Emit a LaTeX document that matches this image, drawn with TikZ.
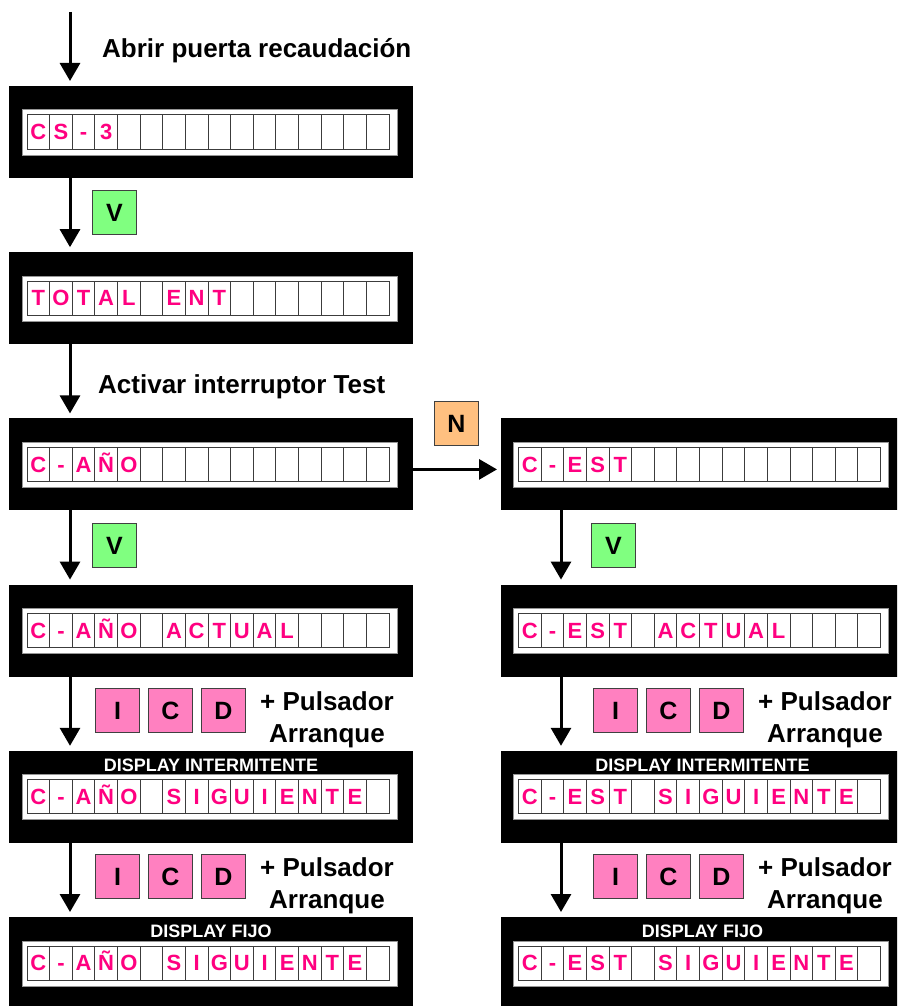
\documentclass[tikz,border=0pt]{standalone}
\usepackage{fontspec}
\setmainfont{Liberation Sans}
\usetikzlibrary{arrows.meta}
\definecolor{lcdpink}{RGB}{255,0,128}
\definecolor{keypink}{RGB}{255,128,192}
\definecolor{keygreen}{RGB}{128,255,128}
\definecolor{keyorange}{RGB}{255,192,128}
\definecolor{cellgray}{RGB}{60,60,60}
\definecolor{wingray}{RGB}{150,150,150}
\tikzset{
  dispbox/.style={draw=none, fill=black, minimum width=404pt, minimum height=92pt, inner sep=0pt, outer sep=0pt, anchor=north west},
  dispwin/.style={draw=wingray, line width=1pt, fill=white, minimum width=375pt, minimum height=45pt, inner sep=0pt, outer sep=0pt, anchor=north west},
  cellbox/.style={draw=cellgray, line width=1pt, minimum width=22.625pt, minimum height=34pt, inner sep=0pt, outer sep=0pt, anchor=north west, text height=15.5pt, text depth=0pt, font=\fontsize{22}{22}\selectfont\bfseries, text=lcdpink},
  hdr/.style={text=white, inner sep=0pt, font=\fontsize{18}{18}\selectfont\bfseries},
  lbl/.style={inner sep=0pt, font=\fontsize{26}{30}\selectfont\bfseries},
  keybox/.style={draw=black!75, line width=1pt, minimum width=44pt, minimum height=44pt, inner sep=0pt, text height=18pt, text depth=0pt, font=\fontsize{25}{25}\selectfont\bfseries},
  arr/.style={line width=3pt, -{Triangle[width=20pt,length=18pt]}},
}
\newcommand\lcdpanel[4]{%
  \node[dispbox] (#1) at (#2,#3) {};
  \node[dispwin] (#1w) at ([shift={(13,24)}]#1.north west) {};
  \foreach \c [count=\i from 0] in {#4} {
    \node[cellbox] (#1c\i) at ([shift={({18+\i*22.625},29)}]#1.north west) {\c};
  }
}
\begin{document}
\begin{tikzpicture}[x=1pt,y=-1pt]
\useasboundingbox (0,0) rectangle (897,1006);
\clip (0,0) rectangle (897,1006);

% left column
\lcdpanel{b1}{9}{86}{C,S,-,3,{},{},{},{},{},{},{},{},{},{},{},{}}
\lcdpanel{b2}{9}{252.2}{T,O,T,A,L,{},E,N,T,{},{},{},{},{},{},{}}
\lcdpanel{b3}{9}{418.4}{C,-,A,Ñ,O,{},{},{},{},{},{},{},{},{},{},{}}
\lcdpanel{b4}{9}{584.6}{C,-,A,Ñ,O,{},A,C,T,U,A,L,{},{},{},{}}
\lcdpanel{b5}{9}{750.8}{C,-,A,Ñ,O,{},S,I,G,U,I,E,N,T,E,{}}
\lcdpanel{b6}{9}{917}{C,-,A,Ñ,O,{},S,I,G,U,I,E,N,T,E,{}}
% right column
\lcdpanel{r3}{500.5}{418.4}{C,-,E,S,T,{},{},{},{},{},{},{},{},{},{},{}}
\lcdpanel{r4}{500.5}{584.6}{C,-,E,S,T,{},A,C,T,U,A,L,{},{},{},{}}
\lcdpanel{r5}{500.5}{750.8}{C,-,E,S,T,{},S,I,G,U,I,E,N,T,E,{}}
\lcdpanel{r6}{500.5}{917}{C,-,E,S,T,{},S,I,G,U,I,E,N,T,E,{}}

% headers
\node[hdr] (b5h) at ([shift={(202,14)}]b5.north west) {DISPLAY INTERMITENTE};
\node[hdr] (b6h) at ([shift={(202,14)}]b6.north west) {DISPLAY FIJO};
\node[hdr] (r5h) at ([shift={(202,14)}]r5.north west) {DISPLAY INTERMITENTE};
\node[hdr] (r6h) at ([shift={(202,14)}]r6.north west) {DISPLAY FIJO};

% arrows
\coordinate (start) at (70,12);
\draw[arr] (start) -- ([shift={(61,-5)}]b1.north west);
\draw[arr] ([shift={(61,0)}]b1.south west) -- ([shift={(61,-5)}]b2.north west);
\draw[arr] ([shift={(61,0)}]b2.south west) -- ([shift={(61,-5)}]b3.north west);
\draw[arr] ([shift={(61,0)}]b3.south west) -- ([shift={(61,-5)}]b4.north west);
\draw[arr] ([shift={(61,0)}]b4.south west) -- ([shift={(61,-5)}]b5.north west);
\draw[arr] ([shift={(61,0)}]b5.south west) -- ([shift={(61,-5)}]b6.north west);
\draw[arr] ([shift={(0,51)}]b3.north east) -- ([shift={(-3.5,51)}]r3.north west);
\draw[arr] ([shift={(60.5,0)}]r3.south west) -- ([shift={(60.5,-5)}]r4.north west);
\draw[arr] ([shift={(60.5,0)}]r4.south west) -- ([shift={(60.5,-5)}]r5.north west);
\draw[arr] ([shift={(60.5,0)}]r5.south west) -- ([shift={(60.5,-5)}]r6.north west);

% labels
\node[lbl, anchor=base west] (l1) at (102,58) {Abrir puerta recaudación};
\node[lbl, anchor=base west] (l2) at (98,393) {Activar interruptor Test};

% keys
\node[keybox, fill=keygreen] (v1) at (114.5,212) {V};
\node[keybox, fill=keygreen] (v2) at (114.5,545) {V};
\node[keybox, fill=keygreen] (v3) at (613.5,545) {V};
\node[keybox, fill=keyorange] (n1) at (456.5,423.5) {N};

\foreach \dx/\side in {0/L,498/R} {
  \foreach \dy/\row in {0/a,166/b} {
    \node[keybox, fill=keypink] (ki\side\row) at ({117.5+\dx},{710.5+\dy}) {I};
    \node[keybox, fill=keypink] (kc\side\row) at ({170.5+\dx},{710.5+\dy}) {C};
    \node[keybox, fill=keypink] (kd\side\row) at ({223.5+\dx},{710.5+\dy}) {D};
    \node[lbl, anchor=base] (kp\side\row) at ({327+\dx},{710+\dy}) {+ Pulsador};
    \node[lbl, anchor=base] (ka\side\row) at ({327+\dx},{742+\dy}) {Arranque};
  }
}
\end{tikzpicture}
\end{document}
